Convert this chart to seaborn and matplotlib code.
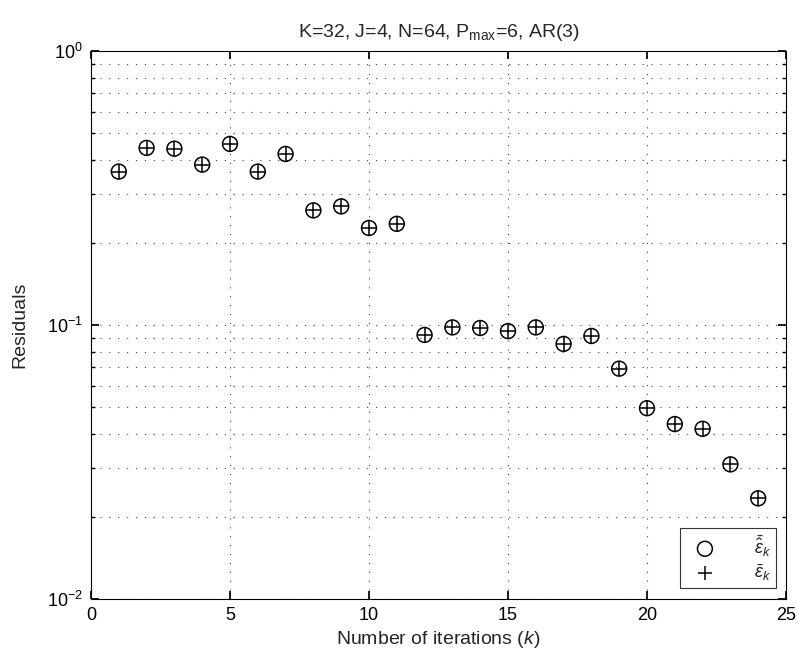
import numpy as np
import pandas as pd
import matplotlib
matplotlib.use("Agg")
import matplotlib.pyplot as plt
import seaborn as sns
from matplotlib.ticker import LogLocator, NullFormatter

iterations = list(range(1, 25))
residuals_hat = [0.363, 0.443, 0.440, 0.385, 0.458, 0.363, 0.421, 0.262, 0.271, 0.226, 0.234,
                 0.092, 0.098, 0.0975, 0.095, 0.098, 0.0853, 0.0912, 0.0693, 0.0497, 0.0435,
                 0.0418, 0.031, 0.0233]
residuals_bar = list(residuals_hat)
labels = [r'$\bar{\hat{\epsilon}}_k$', r'$\bar{\epsilon}_k$']

sns.set_theme(style="white")
plt.rcParams['font.family'] = ['Liberation Sans', 'DejaVu Sans']
plt.rcParams['mathtext.fontset'] = 'custom'
plt.rcParams['mathtext.rm'] = 'Liberation Sans'
plt.rcParams['mathtext.it'] = 'Liberation Sans:italic'

W, H = 797, 656
L, R, T, B = 91, 786, 51, 599
fig = plt.figure(figsize=(W / 100, H / 100), dpi=100)
ax = fig.add_axes([L / W, 1 - B / H, (R - L) / W, (B - T) / H])

df1 = pd.DataFrame({"k": iterations, "r": residuals_hat})
df2 = pd.DataFrame({"k": iterations, "r": residuals_bar})
sns.scatterplot(data=df1, x="k", y="r", marker="o", s=115, facecolors="none",
                edgecolor="black", linewidth=1.1, ax=ax, label=labels[0], zorder=3)
sns.scatterplot(data=df2, x="k", y="r", marker="+", s=115, color="black",
                linewidth=1.1, ax=ax, label=labels[1], zorder=3)

ax.set_yscale("log")
ax.set_xlim(0, 25)
ax.set_ylim(1e-2, 1e0)
ax.set_xticks([0, 5, 10, 15, 20, 25])
ax.yaxis.set_major_locator(LogLocator(base=10, numticks=10))
ax.yaxis.set_minor_locator(LogLocator(base=10, subs=np.arange(2, 10), numticks=20))
ax.yaxis.set_minor_formatter(NullFormatter())

grid_style = dict(linestyle=(0, (1, 7)), color="#444444", linewidth=0.8)
ax.grid(True, which="major", axis="x", **grid_style)
ax.grid(True, which="both", axis="y", **grid_style)

for sp in ax.spines.values():
    sp.set_color("black")
    sp.set_linewidth(0.8)
ax.tick_params(which="both", direction="in", top=True, right=True, bottom=True, left=True,
               colors="black", labelsize=13, pad=6)
ax.tick_params(which="major", length=6)
ax.tick_params(which="minor", length=3)

ax.set_xlabel(r"Number of iterations ($\mathit{k}$)", fontsize=14, labelpad=3)
ax.set_ylabel("Residuals", fontsize=14)
ax.yaxis.set_label_coords((28 - L) / (R - L), 0.5)
ax.set_title(r"K=32, J=4, N=64, P$_{\mathrm{max}}$=6, AR(3)", fontsize=14, pad=10)

leg = ax.legend(loc="lower right", frameon=True, fancybox=False, edgecolor="black",
                fontsize=13, markerfirst=True, handletextpad=1.6, handlelength=2.2,
                borderpad=0.3, labelspacing=0.2, markerscale=1.0, borderaxespad=0,
                bbox_to_anchor=((776 - L) / (R - L), (B - 588) / (B - T)))
leg.get_frame().set_linewidth(0.8)

fig.savefig("out.png", dpi=100)
